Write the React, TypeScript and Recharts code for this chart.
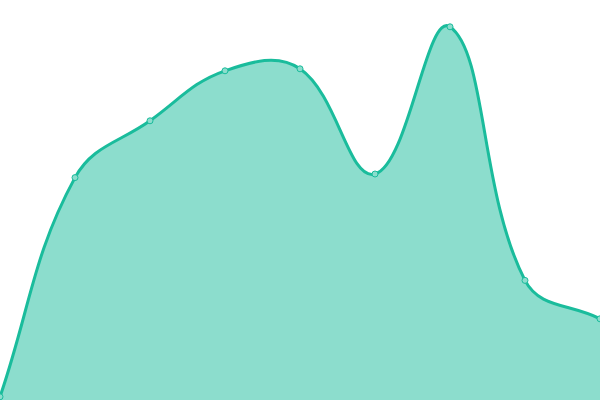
import { AreaChart, Area, XAxis, YAxis } from "recharts";

const labels = ["1", "2", "3", "4", "5", "6", "7", "8", "9"];
const values = [0.8, 55.6, 69.8, 82.3, 82.8, 56.5, 93.3, 29.9, 20.3];

const W = 600;
const H = 400;

const data = labels.map((name, i) => ({ name, value: values[i] }));

// Chart.js-style bezier smoothing (tension 0.4, control points capped to the chart area)
const tensionCurve = (t: number) => (ctx: any) => {
  let pts: [number, number][] = [];
  let line = NaN;
  const cap = (x: number, y: number): [number, number] => [
    Math.max(0, Math.min(W, x)),
    Math.max(0, Math.min(H, y)),
  ];
  return {
    areaStart() {
      line = 0;
    },
    areaEnd() {
      line = NaN;
    },
    lineStart() {
      pts = [];
    },
    point(x: number, y: number) {
      pts.push([+x, +y]);
    },
    lineEnd() {
      const n = pts.length;
      if (n) {
        if (line) ctx.lineTo(pts[0][0], pts[0][1]);
        else ctx.moveTo(pts[0][0], pts[0][1]);
        const cps = pts.map((cur, i) => {
          const prev = pts[i - 1] || cur;
          const next = pts[i + 1] || cur;
          const d01 = Math.hypot(cur[0] - prev[0], cur[1] - prev[1]);
          const d12 = Math.hypot(next[0] - cur[0], next[1] - cur[1]);
          let s01 = d01 / (d01 + d12);
          let s12 = d12 / (d01 + d12);
          if (isNaN(s01)) s01 = 0;
          if (isNaN(s12)) s12 = 0;
          const fa = t * s01;
          const fb = t * s12;
          return {
            before: cap(cur[0] - fa * (next[0] - prev[0]), cur[1] - fa * (next[1] - prev[1])),
            after: cap(cur[0] + fb * (next[0] - prev[0]), cur[1] + fb * (next[1] - prev[1])),
          };
        });
        for (let i = 1; i < n; i++) {
          const a = cps[i - 1].after;
          const b = cps[i].before;
          ctx.bezierCurveTo(a[0], a[1], b[0], b[1], pts[i][0], pts[i][1]);
        }
      }
      if (line || (line !== 0 && n === 1)) ctx.closePath();
      line = 1 - line;
    },
  };
};

const App = () => (
  <div style={{ position: "absolute", left: 0, top: 0 }}>
    <AreaChart width={W} height={H} data={data} margin={{ top: 0, right: 0, bottom: 0, left: 0 }}>
      <XAxis dataKey="name" hide />
      <YAxis domain={[0, 100]} hide />
      <Area
        dataKey="value"
        type={tensionCurve(0.4) as any}
        stroke="#1abc9c"
        strokeWidth={3}
        fill="#1abc9c"
        fillOpacity={0.5}
        dot={{ r: 3, fill: "#8cddcd", stroke: "#1abc9c", strokeWidth: 1, fillOpacity: 1 }}
        activeDot={false}
        isAnimationActive={false}
      />
    </AreaChart>
  </div>
);

export default App;
